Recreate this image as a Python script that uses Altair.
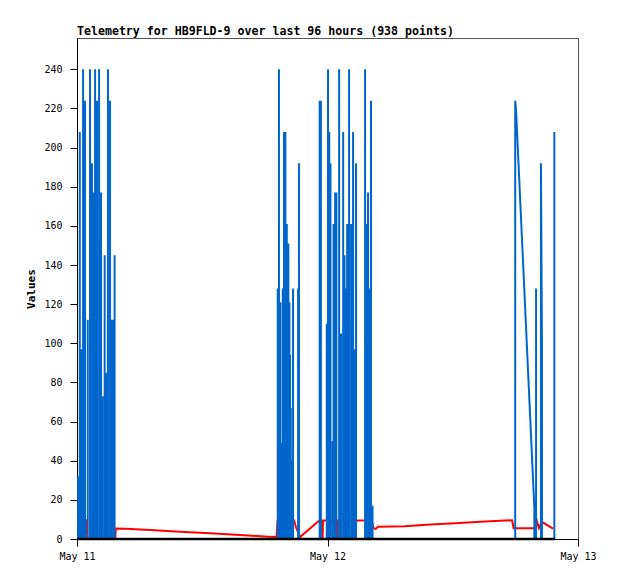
import altair as alt
import pandas as pd

TITLE = "Telemetry for HB9FLD-9 over last 96 hours (938 points)"
START = "2024-05-11 00:00"

# blue series: readings (minutes after May 11 00:00, value); each reading rises from the 0 baseline
blue_spike_min = [
    6, 16, 26, 35, 46, 62, 75, 86, 95, 104,
    115, 127, 138, 147, 159, 168, 178, 190, 200, 207,
    216,
    1154, 1161, 1169, 1175, 1183, 1190, 1198, 1206, 1215, 1221,
    1225, 1229, 1232, 1235, 1242, 1271, 1276,
    1395, 1402, 1436, 1443, 1450, 1457, 1469, 1475, 1484, 1491,
    1507, 1518, 1530, 1538, 1545, 1553, 1564, 1576, 1587, 1596,
    1604, 1656, 1665, 1673, 1682, 1690, 1699,
    2639, 2744,
]
blue_spike_val = [
    32, 208, 97, 240, 224, 112, 240, 192, 177, 240,
    224, 240, 177, 73, 145, 85, 240, 224, 112, 112,
    145,
    128, 240, 121, 49, 128, 208, 208, 161, 151, 121,
    94, 67, 40, 14, 128, 128, 192,
    224, 224, 110, 240, 208, 192, 50, 161, 177, 177,
    240, 105, 208, 145, 128, 161, 240, 161, 208, 97,
    192, 240, 161, 177, 128, 224, 17,
    128, 208,
]
# blue series: decaying runs (minutes, value)
blue_ramp1_min = [2519, 2519, 2524, 2629, 2629]
blue_ramp1_val = [0, 224, 219, 16, 0]
blue_ramp2_min = [2667, 2667, 2673, 2673]
blue_ramp2_val = [0, 192, 97, 0]

# red series
red_min = [
    0, 9, 12, 55, 59, 220, 223, 282, 420, 592,
    765, 937, 1098, 1147, 1153, 1248, 1259, 1282, 1393, 1410,
    1412, 1414, 1496, 1498, 1500, 1693, 1705, 1716, 1731, 1886,
    2030, 2174, 2317, 2432, 2501, 2510, 2634, 2645, 2655, 2671,
    2737,
]
red_val = [
    5.5, 5.5, 9.6, 9.6, 0, 0, 5.4, 5.3, 4.6, 3.7,
    2.9, 2.0, 1.2, 1.0, 9.5, 9.5, 6.0, 1.0, 9.4, 9.4,
    0, 9.4, 9.4, 0, 9.4, 9.4, 5.6, 5.1, 6.3, 6.5,
    7.4, 8.1, 8.8, 9.3, 9.6, 5.5, 5.5, 8.8, 5.6, 8.8,
    5.3,
]

# black series
black_min = [0, 2748]
black_val = [0, 0]

y_ticks = [0, 20, 40, 60, 80, 100, 120, 140, 160, 180, 200, 220, 240]
x_tick_days = [11, 12, 13]


def frame(mins, vals):
    t0 = pd.Timestamp(START)
    return pd.DataFrame({
        "t": t0 + pd.to_timedelta(mins, unit="min"),
        "v": vals,
        "i": list(range(len(vals))),
    })


# assemble the blue path in time order
segments = [[(m, 0), (m, v), (m, 0)] for m, v in zip(blue_spike_min, blue_spike_val)]
segments.append(list(zip(blue_ramp1_min, blue_ramp1_val)))
segments.append(list(zip(blue_ramp2_min, blue_ramp2_val)))
segments.sort(key=lambda s: s[0][0])
blue_path = [(0, 0)] + [p for s in segments for p in s]
blue_df = frame([p[0] for p in blue_path], [p[1] for p in blue_path])

xdom = [alt.DateTime(year=2024, month=5, date=11), alt.DateTime(year=2024, month=5, date=13)]
x_enc = alt.X(
    "t:T",
    scale=alt.Scale(domain=xdom, nice=False),
    axis=alt.Axis(
        values=[alt.DateTime(year=2024, month=5, date=d) for d in x_tick_days],
        format="%b %d",
        title=None,
        tickSize=7,
        labelPadding=5,
        grid=False,
        labelFlush=False,
    ),
)
y_enc = alt.Y(
    "v:Q",
    scale=alt.Scale(domain=[0, 256], nice=False),
    axis=alt.Axis(
        values=y_ticks,
        title="Values",
        tickSize=7,
        labelPadding=8,
        grid=False,
        titleAngle=270,
        titleX=-46,
        titleY=250.5,
        titleAlign="center",
        titleBaseline="middle",
    ),
)
order = alt.Order("i:Q")

red = alt.Chart(frame(red_min, red_val)).mark_line(color="#FF0000", strokeWidth=2).encode(x=x_enc, y=y_enc, order=order)
blue = alt.Chart(blue_df).mark_line(color="#0066CC", strokeWidth=2, strokeJoin="bevel").encode(x=x_enc, y=y_enc, order=order)
black = alt.Chart(frame(black_min, black_val)).mark_line(color="#000000", strokeWidth=2.5).encode(x=x_enc, y=y_enc, order=order)

chart = (
    alt.layer(red, blue, black)
    .properties(
        width=501,
        height=501,
        title=alt.TitleParams(
            TITLE,
            anchor="start",
            frame="group",
            font="DejaVu Sans Mono",
            fontSize=11.6,
            fontWeight="bold",
            offset=3,
            dy=12,
            baseline="alphabetic",
            color="black",
        ),
        autosize=alt.AutoSizeParams(type="none"),
        padding={"left": 69, "top": 30, "right": 30, "bottom": 30},
    )
    .configure_view(stroke="#555555", strokeWidth=1)
    .configure_axis(
        domainColor="black",
        tickColor="black",
        labelColor="black",
        labelFont="DejaVu Sans Mono",
        labelFontSize=10,
        titleFont="DejaVu Sans Mono",
        titleFontSize=11,
        titleFontWeight="bold",
        titleColor="black",
        domainWidth=1,
        tickWidth=1,
    )
)

chart.save("out.html", embed_options={"renderer": "svg", "actions": False})
